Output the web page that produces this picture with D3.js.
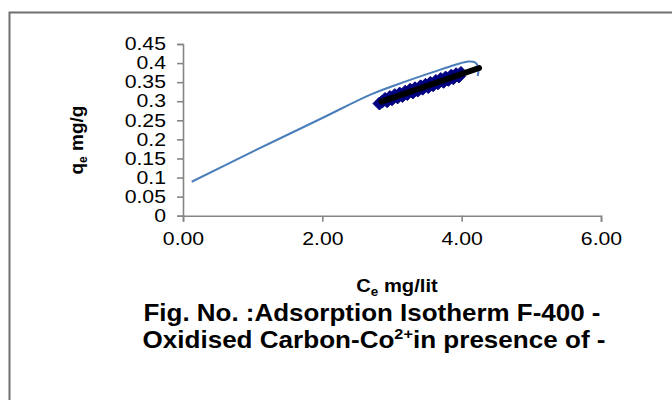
<!DOCTYPE html>
<html>
<head>
    <title>Adsorption Isotherm F-400</title>
    <style>
        body { margin: 0; background: #fff; }
        svg { display: block; font-family: "Liberation Sans", Arial, sans-serif; }
    </style>
</head>
<body>
    <svg width="672" height="400"></svg>
    <script src="https://d3js.org/d3.v7.min.js"></script>
    <script>
        // tick labels on the axes
        var xTicks = [0, 2, 4, 6];
        var yTicks = [0, 0.05, 0.1, 0.15, 0.2, 0.25, 0.3, 0.35, 0.4, 0.45];

        // experimental points (navy diamonds)
        var ceData = [2.82, 2.86, 2.90, 2.93, 2.97, 3.00, 3.04, 3.08, 3.11, 3.15, 3.19,
            3.22, 3.26, 3.30, 3.33, 3.37, 3.41, 3.44, 3.48, 3.52, 3.55, 3.59,
            3.63, 3.66, 3.70, 3.74, 3.77, 3.81, 3.85, 3.88, 3.92, 3.96, 3.99];
        var qeData = [0.294, 0.299, 0.306, 0.300, 0.311, 0.305, 0.316, 0.310, 0.320, 0.314, 0.325,
            0.319, 0.330, 0.323, 0.334, 0.328, 0.339, 0.333, 0.343, 0.337, 0.348, 0.342,
            0.353, 0.347, 0.358, 0.351, 0.362, 0.356, 0.367, 0.360, 0.371, 0.365, 0.374];

        // linear fit (thick black line)
        var fitCe = [2.85, 4.25];
        var fitQe = [0.299, 0.387];

        // model curve (smoothed blue line)
        var modelCe = [0.125, 1.0, 2.0, 2.7, 3.2, 3.6, 3.9, 4.1, 4.2, 4.24, 4.23];
        var modelQe = [0.089, 0.168, 0.256, 0.318, 0.352, 0.377, 0.395, 0.404, 0.401, 0.385, 0.366];

        var svg = d3.select("svg");
        var width = +svg.attr("width");
        var height = +svg.attr("height");

        svg.append("rect").attr("width", width).attr("height", height).attr("fill", "#fff");

        // outer frame (only top and left edges visible)
        svg.append("path")
            .attr("d", "M9.5," + height + "V12.5H" + width)
            .attr("fill", "none")
            .attr("stroke", "#6f6f6f")
            .attr("stroke-width", 2);

        var x = d3.scaleLinear().domain([0, 6]).range([183, 601]);
        var y = d3.scaleLinear().domain([0, 0.45]).range([215.7, 44]);

        // widen text a little, like the original picture
        function stretch(sel, k) {
            sel.each(function() {
                var w = this.getComputedTextLength();
                d3.select(this).attr("textLength", w * k).attr("lengthAdjust", "spacingAndGlyphs");
            });
        }

        var xAxis = svg.append("g")
            .attr("transform", "translate(0," + y(0) + ")")
            .call(d3.axisBottom(x).tickValues(xTicks).tickSize(6).tickPadding(11)
                .tickFormat(d3.format(".2f")));
        var yAxis = svg.append("g")
            .attr("transform", "translate(" + x(0) + ",0)")
            .call(d3.axisLeft(y).tickValues(yTicks).tickSize(6).tickPadding(11)
                .tickFormat(function(d) { return String(+d.toFixed(2)); }));

        [xAxis, yAxis].forEach(function(a) {
            a.select(".domain").attr("stroke", "#868686").attr("stroke-width", 1.6);
            a.selectAll(".tick line").attr("stroke", "#868686").attr("stroke-width", 1.6);
            a.selectAll(".tick text").attr("fill", "#000").attr("font-size", 18)
                .attr("font-family", "Liberation Sans, Arial, sans-serif");
        });
        stretch(xAxis.selectAll(".tick text"), 1.18);
        stretch(yAxis.selectAll(".tick text"), 1.18);

        // model curve
        var modelPts = modelCe.map(function(c, i) { return [c, modelQe[i]]; });
        svg.append("path")
            .datum(modelPts)
            .attr("fill", "none")
            .attr("stroke", "#4a7ebb")
            .attr("stroke-width", 2)
            .attr("d", d3.line()
                .x(function(d) { return x(d[0]); })
                .y(function(d) { return y(d[1]); })
                .curve(d3.curveCatmullRom.alpha(0.5)));

        // experimental diamonds
        var pts = ceData.map(function(c, i) { return [c, qeData[i]]; });
        svg.append("g")
            .selectAll("path")
            .data(pts)
            .enter()
            .append("path")
            .attr("d", "M0,-6.5L6.5,0L0,6.5L-6.5,0Z")
            .attr("fill", "#000080")
            .attr("stroke", "#000080")
            .attr("transform", function(d) { return "translate(" + x(d[0]) + "," + y(d[1]) + ")"; });

        // linear fit
        var fitPts = fitCe.map(function(c, i) { return [c, fitQe[i]]; });
        svg.append("path")
            .datum(fitPts)
            .attr("fill", "none")
            .attr("stroke", "#000")
            .attr("stroke-width", 6)
            .attr("stroke-linecap", "round")
            .attr("d", d3.line()
                .x(function(d) { return x(d[0]); })
                .y(function(d) { return y(d[1]); }));

        // axis titles
        var xt = svg.append("text")
            .attr("x", 397).attr("y", 292)
            .attr("text-anchor", "middle")
            .attr("font-weight", "bold").attr("font-size", 18);
        xt.append("tspan").text("C");
        xt.append("tspan").attr("font-size", 12).attr("dy", 4).text("e");
        xt.append("tspan").attr("dy", -4).text(" mg/lit");
        stretch(xt, 1.12);

        var yt = svg.append("text")
            .attr("transform", "translate(83,140) rotate(-90)")
            .attr("text-anchor", "middle")
            .attr("font-weight", "bold").attr("font-size", 19);
        yt.append("tspan").text("q");
        yt.append("tspan").attr("font-size", 12).attr("dy", 4).text("e");
        yt.append("tspan").attr("dy", -4).text(" mg/g");

        // figure caption
        var t1 = svg.append("text")
            .attr("x", 372).attr("y", 321)
            .attr("text-anchor", "middle")
            .attr("font-weight", "bold").attr("font-size", 24)
            .text("Fig. No. :Adsorption Isotherm F-400 -");
        t1.attr("textLength", 457).attr("lengthAdjust", "spacingAndGlyphs");

        var t2 = svg.append("text")
            .attr("x", 374).attr("y", 348)
            .attr("text-anchor", "middle")
            .attr("font-weight", "bold").attr("font-size", 24);
        t2.append("tspan").text("Oxidised Carbon-Co");
        t2.append("tspan").attr("font-size", 15).attr("dy", -9).text("2+");
        t2.append("tspan").attr("dy", 9).text("in presence of -");
        t2.attr("textLength", 463).attr("lengthAdjust", "spacingAndGlyphs");
    </script>
</body>
</html>
